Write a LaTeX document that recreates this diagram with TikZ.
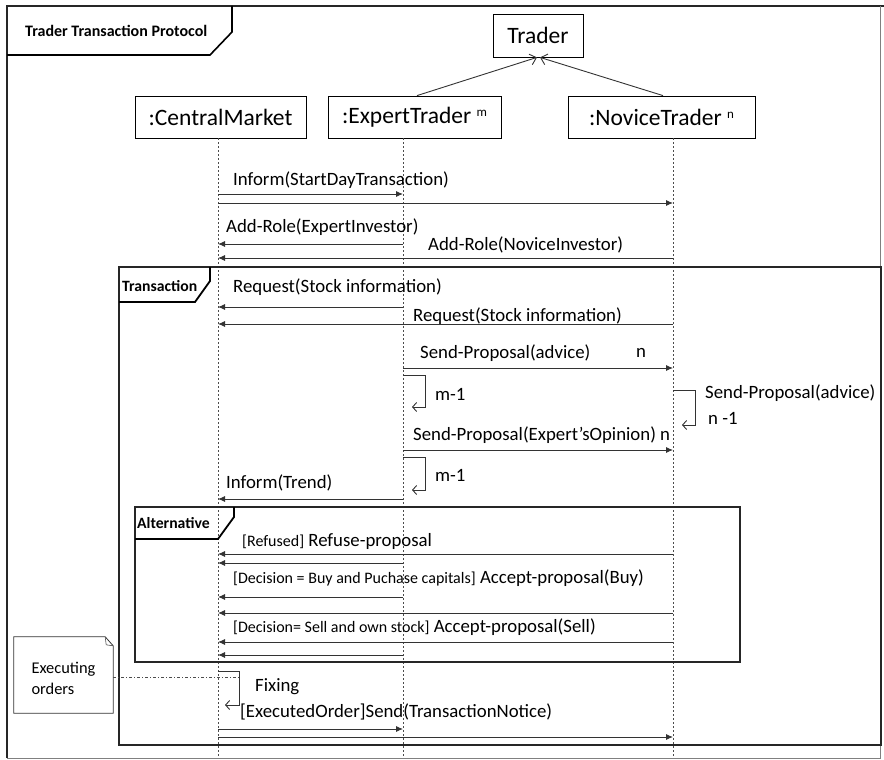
\documentclass[tikz,border=0pt]{standalone}
\usepackage{fontspec}
\setmainfont{Carlito}
\usetikzlibrary{arrows.meta,positioning,calc}
\newcommand\guardtxt[1]{{\fontsize{16}{18}\selectfont #1}}
\newcommand\multtxt[1]{\raisebox{7pt}{\fontsize{13}{14}\selectfont #1}}
\tikzset{
    lifebox/.style={draw, line width=0.8pt, font=\fontsize{23.5}{26}\selectfont,
        minimum height=42pt, inner sep=0pt},
    lifeline/.style={black!70, dash pattern=on 2pt off 2pt, line width=0.8pt},
    msgarrow/.style={-{Latex[length=7pt,width=6pt]}, line width=0.9pt, black!80},
    selfarrow/.style={-{Straight Barb[length=4pt,width=9pt]}, line width=0.9pt, black!80},
    genarrow/.style={-{Straight Barb[length=6pt,width=11pt]}, line width=0.9pt, black!80},
    msglabel/.style={anchor=west, inner sep=0pt, font=\fontsize{18.8}{21}\selectfont},
    framebox/.style={line width=2.4pt, black!85},
    framelabel/.style={anchor=west, inner sep=0pt, font=\bfseries\fontsize{15.7}{17}\selectfont},
    linkline/.style={dash pattern=on 3pt off 2pt on 1pt off 2pt, line width=0.7pt, black!70}
}

\begin{document}
\begin{tikzpicture}[x=1pt, y=-1pt]
\useasboundingbox (0,0) rectangle (884,760);

% outer frame and title
\draw[line width=2.6pt, black!85] (7,758) -- (7,6) -- (884,6);
\draw[line width=0.6pt, black!50] (880,6) -- (880,758) -- (7,758);
\draw[line width=1.6pt] (7,55) -- (210,55) -- (232,32) -- (232,6);
\node[framelabel, font=\bfseries\fontsize{16}{18}\selectfont] (title) at (25,31) {Trader Transaction Protocol};

% lifeline heads
\node[lifebox, minimum width=90pt, minimum height=43pt] (trader) at (538,35.5) {Trader};
\node[lifebox, minimum width=171pt] (cm) at (220.5,117) {:CentralMarket};
\node[lifebox, minimum width=173pt] (et) at (414.5,117) {:ExpertTrader \multtxt{m}};
\node[lifebox, minimum width=187pt] (nt) at (661.5,117) {:NoviceTrader \multtxt{n}};
\draw[genarrow] ([xshift=2.5pt]et.north) -- ([xshift=-1pt]trader.south);
\draw[genarrow] ([xshift=1.5pt]nt.north) -- ([xshift=2pt]trader.south);

% lifelines
\coordinate (cmtop) at (218,138);
\coordinate (ettop) at (403,138);
\coordinate (nttop) at (673,138);
\coordinate (cmend) at (218,757);
\coordinate (etend) at (403,757);
\coordinate (ntend) at (673,757);
\draw[lifeline] (cmtop) -- (cmend);
\draw[lifeline] (ettop) -- (etend);
\draw[lifeline] (nttop) -- (ntend);

% start of day
\node[msglabel] (startlbl) at (233,180) {Inform(StartDayTransaction)};
\draw[msgarrow] (cmtop |- 0,194) -- (ettop |- 0,194);
\draw[msgarrow] (cmtop |- 0,203) -- (nttop |- 0,203);
\node[msglabel] (rolelbl1) at (226,227) {Add-Role(ExpertInvestor)};
\draw[msgarrow] (ettop |- 0,244) -- (cmtop |- 0,244);
\node[msglabel] (rolelbl2) at (428,245) {Add-Role(NoviceInvestor)};
\draw[msgarrow] (nttop |- 0,258) -- (cmtop |- 0,258);

% transaction fragment
\draw[framebox] (119,267) rectangle (881,745);
\draw[line width=1.8pt] (119,302) -- (195,302) -- (210,281) -- (210,267);
\node[framelabel] (translbl) at (122,286) {Transaction};

\node[msglabel] (reqlbl1) at (233,287) {Request(Stock information)};
\draw[msgarrow] (ettop |- 0,307) -- (cmtop |- 0,307);
\node[msglabel] (reqlbl2) at (413,316) {Request(Stock information)};
\draw[msgarrow] (nttop |- 0,324) -- (cmtop |- 0,324);

\node[msglabel] (advlbl) at (420,353) {Send-Proposal(advice)};
\node[msglabel] (advn) at (636,353) {n};
\draw[msgarrow] (ettop |- 0,368) -- (nttop |- 0,368);
\draw[selfarrow] (ettop |- 0,375) -- ++(22,0) -- ++(0,32) -- ++(-13,0);
\node[msglabel] (loopm1) at (435,394) {m-1};
\draw[selfarrow] (nttop |- 0,390) -- ++(22,0) -- ++(0,35) -- ++(-13,0);
\node[msglabel] (advlbl2) at (705,393) {Send-Proposal(advice)};
\node[msglabel] (loopn1) at (708,418) {n -1};

\node[msglabel] (opinlbl) at (413,435) {Send-Proposal(Expert’sOpinion) n};
\draw[msgarrow] (ettop |- 0,450) -- (nttop |- 0,450);
\draw[selfarrow] (ettop |- 0,457) -- ++(22,0) -- ++(0,33) -- ++(-13,0);
\node[msglabel] (loopm2) at (435,475) {m-1};
\node[msglabel] (trendlbl) at (226,483) {Inform(Trend)};
\draw[msgarrow] (ettop |- 0,499) -- (cmtop |- 0,499);

% alternative fragment
\draw[framebox] (135,507) rectangle (740,662);
\draw[line width=1.8pt] (135,539) -- (218,539) -- (234,517) -- (234,507);
\node[framelabel] (altlbl) at (137,523) {Alternative};

\node[msglabel] (refuselbl) at (242,541) {\guardtxt{[Refused]} Refuse-proposal};
\draw[msgarrow] (nttop |- 0,554) -- (cmtop |- 0,554);
\draw[msgarrow] (ettop |- 0,563) -- (cmtop |- 0,563);
\node[msglabel] (buylbl) at (233,578) {\guardtxt{[Decision = Buy and Puchase capitals]} Accept-proposal(Buy)};
\draw[msgarrow] (ettop |- 0,597) -- (cmtop |- 0,597);
\draw[msgarrow] (nttop |- 0,613) -- (cmtop |- 0,613);
\node[msglabel] (selllbl) at (233,627) {\guardtxt{[Decision= Sell and own stock]} Accept-proposal(Sell)};
\draw[msgarrow] (nttop |- 0,642) -- (cmtop |- 0,642);
\draw[msgarrow] (ettop |- 0,655) -- (cmtop |- 0,655);

% fixing and notice
\draw[selfarrow] (cmtop |- 0,671) -- ++(21,0) -- ++(0,34) -- ++(-14,0);
\coordinate (fixpt) at (239,677);
\node[msglabel] (fixlbl) at (255,687) {Fixing};
\node[msglabel] (noticelbl) at (240,712) {[ExecutedOrder]Send(TransactionNotice)};
\draw[msgarrow] (cmtop |- 0,729) -- (ettop |- 0,729);
\draw[msgarrow] (cmtop |- 0,737) -- (nttop |- 0,737);

% note
\node[minimum width=99pt, minimum height=76pt, inner sep=0pt] (note) at (63.5,675) {};
\draw[line width=0.8pt, black!80] (note.south west) -- (note.north west)
    -- ([xshift=-8pt]note.north east) -- ([yshift=-9pt]note.north east)
    -- (note.south east) -- cycle;
\draw[line width=0.6pt, black!70] ([xshift=-8pt]note.north east) -- ([xshift=-7pt,yshift=-8pt]note.north east)
    -- ([yshift=-9pt]note.north east);
\node[align=left, inner sep=0pt, font=\fontsize{16.4}{21}\selectfont] (notetxt) at (63.5,678) {Executing\\orders};
\draw[linkline] (note.east |- fixpt) -- (fixpt);
\end{tikzpicture}
\end{document}
